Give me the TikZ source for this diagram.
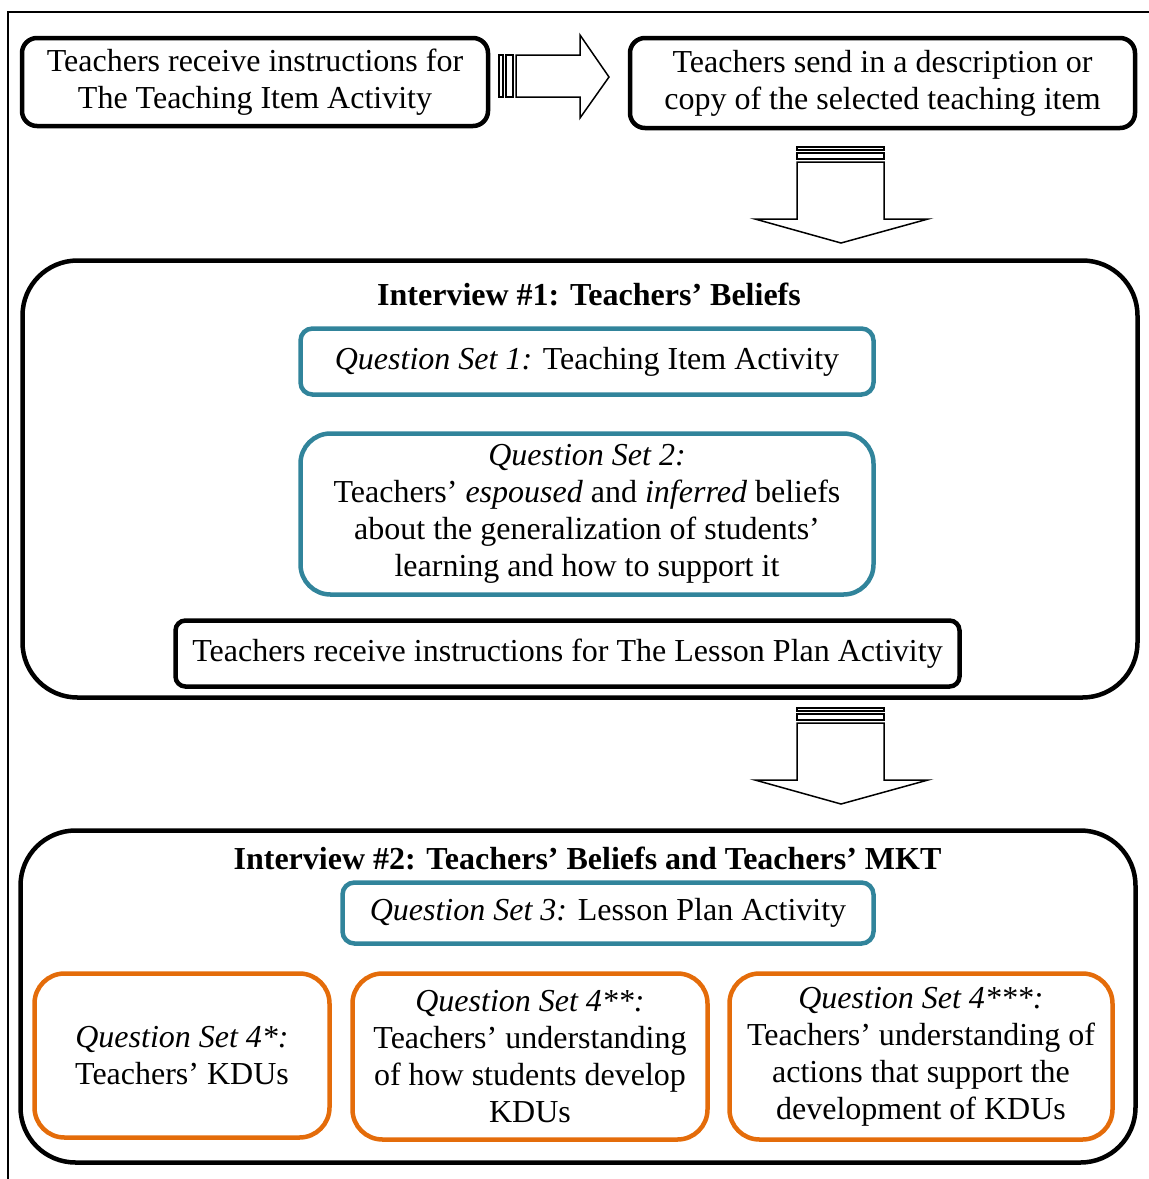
\documentclass[tikz,border=0pt]{standalone}
\usepackage{fontspec}
\setmainfont{Liberation Serif}
\usepackage{xcolor}
\usepackage{tikz}
\definecolor{setblue}{RGB}{49, 132, 155}
\definecolor{setorange}{RGB}{228, 108, 10}
\usetikzlibrary{positioning, calc}

\tikzset{
    downarrow/.pic={
        \draw[arrowline] (-44,0) rectangle (43,3);
        \draw[arrowline] (-44,6) rectangle (43,12);
        \draw[arrowline] (-44,15) -- (-44,72) -- (-86,72) -- (0,96) -- (87,72) -- (43,72) -- (43,15) -- cycle;
    }
}

\begin{document}
\begin{tikzpicture}[
    x=1pt, y=-1pt,
    every node/.style={font=\fontsize{32}{37}\selectfont},
    taskbox/.style={rectangle, draw, line width=4.5pt, rounded corners=15pt, align=center, inner sep=0pt},
    setbox/.style={taskbox, draw=setblue, rounded corners=12pt},
    kdubox/.style={taskbox, draw=setorange, rounded corners=30pt},
    interview/.style={rectangle, draw, line width=4.5pt, rounded corners=55pt},
    title/.style={font=\fontsize{32}{37}\selectfont\bfseries},
    arrowline/.style={draw, line width=1.5pt, fill=white, line join=miter},
    frame/.style={line width=1.5pt}
]
    \useasboundingbox (0,0) rectangle (1149,1179);
    \draw[frame] (8,1179) -- (8,12) -- (1149,12);

    % top row
    \node[taskbox, minimum width=466pt, minimum height=88pt] (instr) at (255,82) {Teachers receive instructions for\\The Teaching Item Activity};
    \node[taskbox, minimum width=505pt, minimum height=90pt] (send) at (882.5,83) {Teachers send in a description or\\copy of the selected teaching item};

    \draw[arrowline] (499,55) rectangle (503,97);
    \draw[arrowline] (506,55) rectangle (513,97);
    \draw[arrowline] (516,55) -- (580,55) -- (580,35) -- (609,77) -- (580,118) -- (580,97) -- (516,97) -- cycle;

    \pic at (841,147) {downarrow};

    % interview 1
    \node[interview, minimum width=1115pt, minimum height=437pt] (int1) at (580,479) {};
    \node[title] (int1title) at (589,294) {Interview \#1: Teachers’ Beliefs};
    \node[setbox, minimum width=573pt, minimum height=66pt] (qs1) at (587,361.5) {\textit{Question Set 1:} Teaching Item Activity};
    \node[setbox, rounded corners=30pt, minimum width=573pt, minimum height=161pt] (qs2) at (587,514) {\textit{Question Set 2:}\\Teachers’ \textit{espoused} and \textit{inferred} beliefs\\about the generalization of students’\\learning and how to support it};
    \node[taskbox, rounded corners=10pt, minimum width=784pt, minimum height=66pt] (lesson) at (567.5,653.5) {Teachers receive instructions for The Lesson Plan Activity};

    \pic at (841,708) {downarrow};

    % interview 2
    \node[interview, minimum width=1115pt, minimum height=332pt] (int2) at (578,996.5) {};
    \node[title] (int2title) at (587.5,858) {Interview \#2: Teachers’ Beliefs and Teachers’ MKT};
    \node[setbox, minimum width=531pt, minimum height=61pt] (qs3) at (608,913) {\textit{Question Set 3:} Lesson Plan Activity};
    \node[kdubox, minimum width=295pt, minimum height=164pt] (qs4a) at (182,1055.5) {\textit{Question Set 4*:}\\Teachers’ KDUs};
    \node[kdubox, minimum width=355pt, minimum height=166pt] (qs4b) at (530,1056.5) {\textit{Question Set 4**:}\\Teachers’ understanding\\of how students develop\\KDUs};
    \node[kdubox, minimum width=383pt, minimum height=166pt] (qs4c) at (921,1056.5) {\textit{Question Set 4***:}\\Teachers’ understanding of\\actions that support the\\development of KDUs};
\end{tikzpicture}
\end{document}
